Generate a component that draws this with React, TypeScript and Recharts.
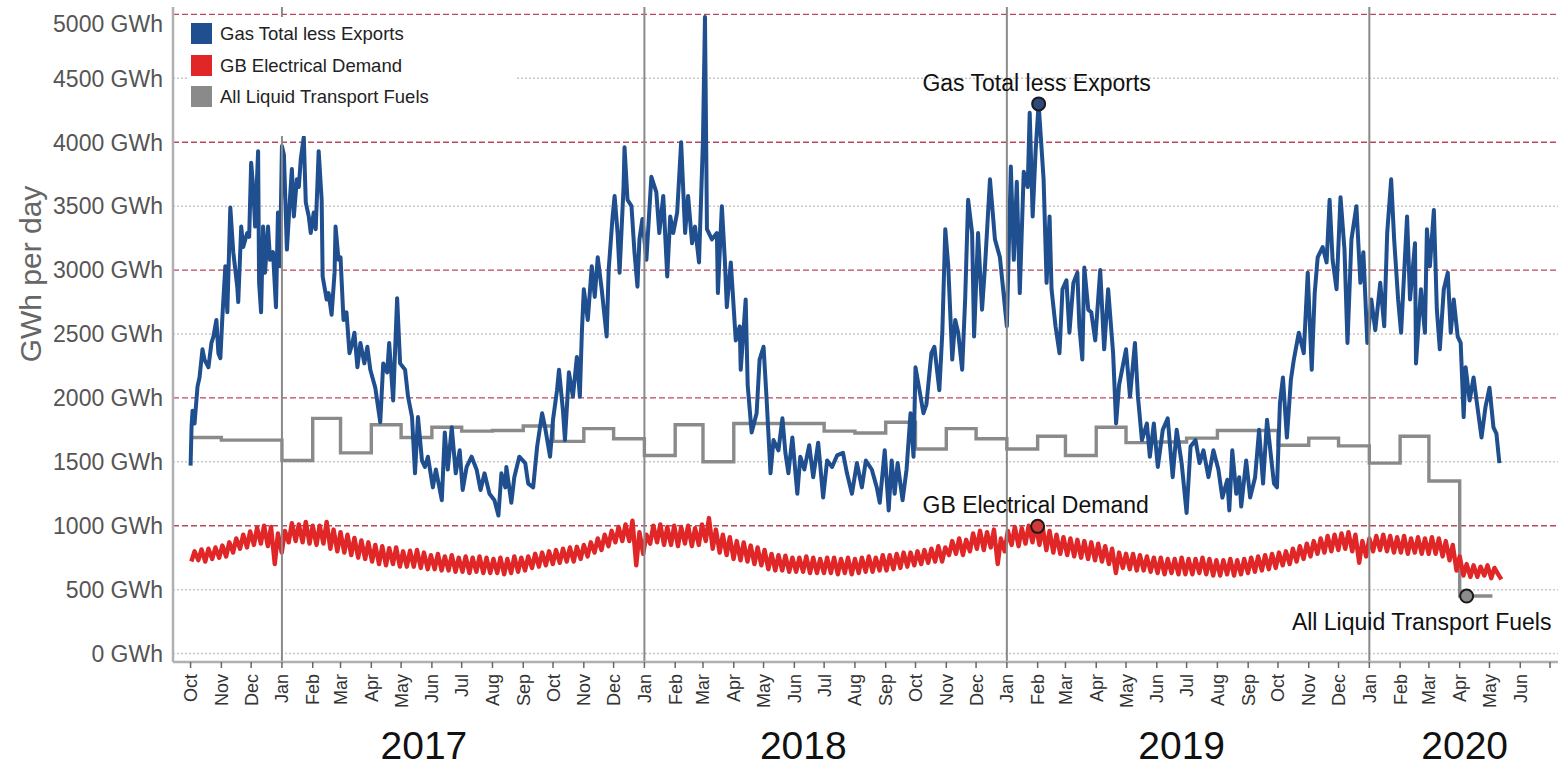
import React from 'react';
import {
  ComposedChart,
  Line,
  XAxis,
  YAxis,
  CartesianGrid,
  ReferenceLine,
  ReferenceDot,
} from 'recharts';

// ---------- DATA ----------
// day numbers are days since 2016-10-01
const SERIES_START = Date.UTC(2016, 9, 1);
const dayOf = (y: number, m: number, d = 1) => (Date.UTC(y, m, d) - SERIES_START) / 86400000;

// Gas Total less Exports (GWh per day)
const gasDays = [
  0, 1, 2, 4, 7, 9, 12, 14, 18, 21, 23, 26, 28, 30, 32, 35, 37, 40, 43, 47, 48, 51, 53, 57, 59, 61, 63, 65, 68, 69,
  71, 73, 75, 78, 80, 83, 86, 88, 90, 92, 94, 97, 100, 102, 104, 107, 109, 111, 114, 116, 119, 121, 124, 126, 129,
  132, 133, 137, 139, 142, 145, 146, 149, 151, 154, 157, 160, 163, 165, 168, 171, 175, 178, 181, 186, 191, 194, 198,
  200, 204, 208, 211, 216, 219, 223, 226, 229, 233, 236, 239, 244, 247, 253, 256, 259, 263, 267, 271, 274, 278, 283,
  288, 292, 296, 301, 306, 310, 313, 317, 318, 323, 326, 331, 337, 340, 345, 349, 354, 357, 362, 365, 369, 371, 375,
  377, 381, 385, 389, 392, 394, 396, 400, 404, 407, 410, 414, 419, 421, 425, 427, 430, 432, 436, 437, 440, 444, 447,
  450, 452, 455, 459, 464, 469, 472, 476, 480, 483, 486, 490, 494, 498, 501, 505, 508, 512, 516, 518, 520, 525, 530,
  531, 535, 538, 540, 544, 546, 549, 553, 554, 559, 561, 565, 570, 573, 577, 580, 584, 587, 592, 596, 599, 602, 606,
  611, 614, 618, 623, 627, 632, 637, 641, 646, 651, 657, 661, 666, 671, 676, 680, 686, 691, 694, 699, 703, 706, 709,
  712, 717, 721, 725, 728, 730, 734, 738, 741, 746, 749, 754, 757, 760, 763, 767, 770, 773, 777, 780, 783, 787, 789,
  793, 797, 800, 805, 810, 815, 818, 822, 826, 829, 832, 835, 839, 843, 845, 848, 851, 854, 859, 862, 865, 867, 871,
  875, 878, 882, 885, 889, 893, 895, 898, 900, 904, 907, 911, 916, 920, 924, 929, 932, 935, 938, 942, 946, 951, 954,
  958, 963, 966, 970, 974, 979, 984, 989, 993, 998, 1003, 1007, 1012, 1016, 1020, 1025, 1030, 1035, 1039, 1044, 1046,
  1049, 1053, 1056, 1058, 1063, 1067, 1072, 1076, 1080, 1084, 1088, 1091, 1094, 1097, 1100, 1104, 1108, 1111, 1116,
  1121, 1125, 1129, 1132, 1135, 1140, 1144, 1147, 1150, 1154, 1158, 1162, 1165, 1169, 1174, 1178, 1181, 1185, 1189,
  1193, 1198, 1202, 1205, 1209, 1212, 1216, 1219, 1225, 1228, 1233, 1234, 1239, 1243, 1245, 1248, 1252, 1255, 1258,
  1262, 1266, 1269, 1272, 1276, 1279, 1282, 1284, 1288, 1292, 1295, 1300, 1304, 1308, 1312, 1315, 1318,
];
const gasValues = [
  1470, 1780, 1900, 1800, 2090, 2160, 2380, 2300, 2240, 2430, 2480, 2610, 2350, 2310, 2630, 3030, 2670, 3490, 3140,
  2870, 2750, 3340, 3180, 3290, 3260, 3840, 3650, 3340, 3930, 2900, 2670, 3340, 2980, 3340, 3080, 3140, 2710, 3450,
  3030, 3970, 3900, 3160, 3550, 3790, 3420, 3710, 3650, 3870, 4040, 3530, 3420, 3290, 3450, 3320, 3930, 3550, 2950,
  2770, 2820, 2650, 2980, 3340, 3080, 3100, 2610, 2670, 2350, 2430, 2510, 2240, 2430, 2270, 2400, 2220, 2080, 1810,
  2270, 2200, 2430, 1980, 2780, 2270, 2220, 2010, 1850, 1410, 1850, 1510, 1460, 1540, 1300, 1440, 1200, 1730, 1440,
  1770, 1410, 1590, 1280, 1460, 1540, 1440, 1280, 1410, 1250, 1200, 1080, 1410, 1300, 1460, 1180, 1380, 1540, 1490,
  1330, 1300, 1620, 1880, 1770, 1540, 1830, 2060, 2220, 1900, 1670, 2200, 2010, 2320, 2010, 2510, 2850, 2610, 3030,
  2790, 3100, 2850, 2480, 3000, 3420, 3580, 3290, 2980, 3650, 3960, 3550, 3500, 3140, 2870, 3240, 3400, 3080, 3730,
  3610, 3290, 3580, 2950, 3420, 3290, 3450, 4000, 3290, 3580, 3210, 3340, 3060, 4020, 4980, 3320, 3240, 3290, 2820,
  3500, 3080, 2710, 3060, 2820, 2450, 2560, 2220, 2770, 2100, 1730, 1880, 2300, 2400, 2000, 1410, 1670, 1590, 1840,
  1570, 1410, 1690, 1250, 1540, 1440, 1630, 1380, 1650, 1220, 1510, 1460, 1550, 1570, 1410, 1250, 1490, 1300, 1510,
  1440, 1300, 1180, 1590, 1120, 1510, 1250, 1490, 1200, 1440, 1880, 1540, 2240, 2060, 1880, 1950, 2350, 2400, 2060,
  2510, 3320, 3030, 2300, 2610, 2510, 2220, 2770, 3550, 3290, 2480, 3290, 2690, 3030, 3710, 3240, 3100, 2870, 2560,
  3810, 3080, 3690, 2820, 3770, 3650, 4230, 3420, 3940, 4300, 3710, 2900, 3420, 2850, 2560, 2350, 2850, 2920, 2510,
  2900, 2980, 2560, 2300, 3020, 2690, 2670, 2450, 3000, 2380, 2850, 2350, 1800, 2100, 2220, 2380, 2010, 2430, 2010,
  1670, 1800, 1540, 1800, 1460, 1750, 1840, 1380, 1750, 1490, 1100, 1620, 1670, 1490, 1590, 1380, 1590, 1440, 1220,
  1360, 1120, 1590, 1250, 1380, 1150, 1510, 1220, 1380, 1750, 1330, 1830, 1540, 1330, 1300, 1960, 2160, 1690, 2140,
  2300, 2510, 2350, 2980, 2220, 2820, 3100, 3180, 3060, 3550, 3080, 2850, 3570, 3160, 2430, 3240, 3500, 2900, 3140,
  2430, 2770, 2530, 2900, 2560, 3290, 3710, 3240, 2770, 2510, 3420, 2770, 3210, 2270, 2850, 2510, 3320, 3030, 3470,
  2690, 2380, 2850, 2980, 2510, 2770, 2480, 2430, 1850, 2240, 1980, 2160, 1980, 1690, 1930, 2080, 1770, 1720, 1490,
];

// GB Electrical Demand: one weekend level and one weekday level per week (week 0 starts 2016-10-01)
const elecWeekHigh = [
  800, 815, 820, 830, 845, 870, 900, 930, 955, 985, 1000, 990, 940, 960, // Oct-Dec 2016
  1020, 1010, 1030, 1000, 1000, 1030, 970, 950, 930, 905, 885, 870, // Jan-Mar 2017
  850, 840, 825, 830, 800, 805, 810, 790, 770, 780, 760, 770, 750, // Apr-Jun 2017
  760, 750, 760, 750, 740, 750, 740, 760, 750, 760, 780, 790, 800, 810, // Jul-Sep 2017
  820, 830, 835, 850, 870, 900, 930, 960, 990, 1010, 1040, 950, 930, // Oct-Dec 2017
  1000, 1010, 990, 1000, 990, 1000, 980, 1010, 1060, 970, 930, 910, 880, // Jan-Mar 2018
  870, 845, 830, 810, 780, 770, 765, 750, 750, 760, 750, 740, 750, // Apr-Jun 2018
  750, 740, 750, 740, 750, 760, 750, 770, 770, 780, 790, 790, 800, // Jul-Sep 2018
  810, 820, 840, 830, 880, 900, 890, 940, 960, 950, 970, 900, 960, // Oct-Dec 2018
  990, 980, 1000, 1010, 990, 960, 930, 910, 900, 890, 880, 870, 860, // Jan-Mar 2019
  840, 820, 790, 780, 780, 770, 760, 750, 750, 740, 740, 750, 740, // Apr-Jun 2019
  740, 750, 740, 730, 730, 740, 730, 740, 750, 760, 770, 780, 790, // Jul-Sep 2019
  800, 820, 840, 860, 880, 900, 920, 930, 940, 950, 930, 880, 900, // Oct-Dec 2019
  920, 930, 920, 910, 920, 900, 910, 900, 910, 900, 880, 850, 760, // Jan-Mar 2020
  700, 690, 680, 690, 670, 580, // Apr-May 2020
];
const elecWeekLow = [
  720, 730, 720, 740, 750, 760, 790, 820, 830, 850, 860, 840, 700, 790,
  870, 880, 870, 860, 850, 860, 820, 800, 790, 770, 750, 740,
  720, 700, 690, 700, 680, 680, 680, 670, 660, 660, 650, 650, 640,
  640, 630, 640, 630, 630, 630, 620, 630, 640, 650, 670, 680, 690, 700,
  710, 720, 720, 740, 760, 790, 810, 840, 870, 880, 880, 690, 780,
  860, 870, 850, 850, 840, 860, 840, 850, 880, 820, 790, 770, 740,
  730, 720, 700, 690, 660, 650, 650, 640, 640, 640, 630, 630, 630,
  630, 620, 630, 620, 630, 640, 640, 650, 650, 660, 670, 680, 690,
  700, 710, 720, 720, 770, 780, 770, 800, 820, 810, 830, 700, 800,
  850, 840, 860, 870, 850, 810, 790, 780, 770, 760, 750, 740, 730,
  720, 700, 630, 670, 660, 650, 650, 640, 630, 620, 630, 620, 620,
  620, 630, 620, 610, 610, 620, 610, 620, 630, 640, 650, 660, 670,
  690, 700, 720, 740, 760, 780, 790, 800, 810, 820, 800, 710, 760,
  800, 810, 800, 790, 790, 780, 790, 780, 780, 780, 760, 730, 650,
  610, 600, 600, 610, 590, 620,
];

// All Liquid Transport Fuels: monthly level, held flat through each month
const transportMonths = [
  '2016-10', '2016-11', '2016-12',
  '2017-01', '2017-02', '2017-03', '2017-04', '2017-05', '2017-06', '2017-07', '2017-08', '2017-09', '2017-10', '2017-11', '2017-12',
  '2018-01', '2018-02', '2018-03', '2018-04', '2018-05', '2018-06', '2018-07', '2018-08', '2018-09', '2018-10', '2018-11', '2018-12',
  '2019-01', '2019-02', '2019-03', '2019-04', '2019-05', '2019-06', '2019-07', '2019-08', '2019-09', '2019-10', '2019-11', '2019-12',
  '2020-01', '2020-02', '2020-03', '2020-04',
];
const transportValues = [
  1690, 1670, 1670,
  1510, 1840, 1570, 1790, 1690, 1770, 1740, 1745, 1780, 1660, 1760, 1680,
  1550, 1790, 1500, 1800, 1800, 1800, 1740, 1725, 1810, 1600, 1760, 1680,
  1600, 1700, 1550, 1770, 1650, 1655, 1685, 1745, 1745, 1630, 1685, 1625,
  1490, 1700, 1350, 450,
];
const transportLastDay = '2020-05-04';

const yTicks = [0, 500, 1000, 1500, 2000, 2500, 3000, 3500, 4000, 4500, 5000];
const MONTH_NAMES = ['Jan', 'Feb', 'Mar', 'Apr', 'May', 'Jun', 'Jul', 'Aug', 'Sep', 'Oct', 'Nov', 'Dec'];
const yearDividers = [2017, 2018, 2019, 2020];
const yearLabels = ['2017', '2018', '2019', '2020'];
const yearLabelDays = [235, 617, 998, 1283];

const annotationLabels = ['Gas Total less Exports', 'GB Electrical Demand', 'All Liquid Transport Fuels'];
const annotationDays = [854, 853, 1285];
const annotationValues = [4300, 995, 450];

const legendNames = ['Gas Total less Exports', 'GB Electrical Demand', 'All Liquid Transport Fuels'];

// ---------- STYLE ----------
const FONT = "'Liberation Sans', Arial, Helvetica, sans-serif";
const GAS_COLOR = '#1f4f8f';
const ELEC_COLOR = '#e02626';
const FUEL_COLOR = '#8a8a8a';
const seriesColors = [GAS_COLOR, ELEC_COLOR, FUEL_COLOR];
const dotFills = ['#2c4a78', '#d23a3a', '#8c8c8c'];

// ---------- DERIVED TABLES ----------
const gasData = gasDays.map((d, i) => ({ day: d, value: gasValues[i] }));
const elecData: { day: number; value: number }[] = [];
elecWeekHigh.forEach((hi, w) => {
  elecData.push({ day: 7 * w + 0.8, value: elecWeekLow[w] });
  elecData.push({ day: 7 * w + 4, value: hi });
});
const parseMonth = (s: string) => {
  const [y, m] = s.split('-').map(Number);
  return dayOf(y, m - 1);
};
const transportData = transportMonths.map((s, i) => ({ day: parseMonth(s), value: transportValues[i] }));
{
  const [ly, lm, ld] = transportLastDay.split('-').map(Number);
  transportData.push({ day: dayOf(ly, lm - 1, ld), value: transportValues[transportValues.length - 1] });
}

const monthTicks: { day: number; label: string }[] = [];
for (let y = 2016, m = 9; y < 2020 || (y === 2020 && m <= 6); ) {
  monthTicks.push({ day: dayOf(y, m), label: y === 2020 && m === 6 ? '' : MONTH_NAMES[m] });
  m++;
  if (m > 11) {
    m = 0;
    y++;
  }
}
const allXTicks = [...monthTicks.map((t) => t.day), ...yearLabelDays];
const X_DOMAIN: [number, number] = [-17.7, 1377];
const Y_DOMAIN: [number, number] = [-66, 5058];

const XTick = (props: any) => {
  const { x, y, payload } = props;
  const yi = yearLabelDays.findIndex((d) => Math.abs(d - payload.value) < 0.01);
  if (yi >= 0) {
    return (
      <text x={x} y={y + 87} textAnchor="middle" fontSize={39} fill="#111" fontFamily={FONT}>
        {yearLabels[yi]}
      </text>
    );
  }
  const t = monthTicks.find((mt) => Math.abs(mt.day - payload.value) < 0.01);
  return (
    <g>
      <line x1={x} x2={x} y1={y - 10} y2={y - 4} stroke="#666" strokeWidth={1.5} />
      <g transform={`translate(${x},${y + 2})`}>
        <text transform="rotate(-90)" textAnchor="end" dy="0.36em" fontSize={18} fill="#333" fontFamily={FONT}>
          {t ? t.label : ''}
        </text>
      </g>
    </g>
  );
};

const ValueTick = (props: any) => {
  const { x, y, payload } = props;
  return (
    <text x={x} y={Math.max(y, 24)} dy="0.36em" textAnchor="end" fontSize={23} fill="#555" fontFamily={FONT}>
      {`${payload.value} GWh`}
    </text>
  );
};

const makeAnnotationLabel = (i: number) => (props: any) => {
  const vb = props.viewBox || {};
  const cx = (vb.x ?? 0) + (vb.width ?? 0) / 2;
  const cy = (vb.y ?? 0) + (vb.height ?? 0) / 2;
  if (i === 2) {
    return (
      <text x={cx - 45} y={cy + 18} dy="0.71em" textAnchor="middle" fontSize={23} fill="#111" fontFamily={FONT}>
        {annotationLabels[i]}
      </text>
    );
  }
  return (
    <text x={cx - 2} y={cy - 13} textAnchor="middle" fontSize={23} fill="#111" fontFamily={FONT}>
      {annotationLabels[i]}
    </text>
  );
};

export default function App() {
  return (
    <div style={{ position: 'absolute', left: 0, top: 0, width: 1562, height: 769, background: '#fff', fontFamily: FONT }}>
      <ComposedChart
        width={1562}
        height={769}
        margin={{ top: 7, right: 4, bottom: 0, left: 0 }}
        style={{ fontFamily: FONT }}
      >
        <CartesianGrid
          vertical={false}
          horizontalValues={[0, 500, 1500, 2500, 3500, 4500]}
          stroke="#c8c8c8"
          strokeWidth={1.5}
          strokeDasharray="2 2"
          xAxisId="m"
          yAxisId="v"
        />
        <CartesianGrid
          vertical={false}
          horizontalValues={[1000, 2000, 3000, 4000, 5000]}
          stroke="#b8485e"
          strokeWidth={1.3}
          strokeDasharray="6 3"
          xAxisId="m"
          yAxisId="v"
        />
        <XAxis
          xAxisId="m"
          type="number"
          dataKey="day"
          domain={X_DOMAIN}
          allowDataOverflow
          ticks={allXTicks}
          interval={0}
          tick={<XTick />}
          tickSize={6}
          tickMargin={4}
          tickLine={false}
          axisLine={{ stroke: '#b0b0b0', strokeWidth: 2.5 }}
          height={107}
        />
        <YAxis
          yAxisId="v"
          type="number"
          domain={Y_DOMAIN}
          allowDataOverflow
          ticks={yTicks}
          interval={0}
          tick={<ValueTick />}
          tickLine={false}
          tickSize={6}
          tickMargin={4}
          axisLine={{ stroke: '#b0b0b0', strokeWidth: 2.5 }}
          width={173}
        />
        <Line
          xAxisId="m"
          yAxisId="v"
          data={transportData}
          dataKey="value"
          type="stepAfter"
          stroke={FUEL_COLOR}
          strokeWidth={3.4}
          dot={false}
          activeDot={false}
          isAnimationActive={false}
        />
        <Line
          xAxisId="m"
          yAxisId="v"
          data={elecData}
          dataKey="value"
          type="linear"
          stroke={ELEC_COLOR}
          strokeWidth={4.4}
          strokeLinejoin="round"
          dot={false}
          activeDot={false}
          isAnimationActive={false}
        />
        <Line
          xAxisId="m"
          yAxisId="v"
          data={gasData}
          dataKey="value"
          type="linear"
          stroke={GAS_COLOR}
          strokeWidth={4}
          strokeLinejoin="round"
          dot={false}
          activeDot={false}
          isAnimationActive={false}
        />
        {yearDividers.map((y) => (
          <ReferenceLine
            key={y}
            xAxisId="m"
            yAxisId="v"
            x={dayOf(y, 0)}
            stroke="#8a8a8a"
            strokeWidth={2}
          />
        ))}
        {annotationDays.map((d, i) => (
          <ReferenceDot
            key={i}
            xAxisId="m"
            yAxisId="v"
            x={d}
            y={annotationValues[i]}
            r={6.5}
            fill={dotFills[i]}
            stroke="#1a1a1a"
            strokeWidth={2}
            label={makeAnnotationLabel(i)}
          />
        ))}
      </ComposedChart>
      <svg
        width={30}
        height={769}
        style={{ position: 'absolute', left: 0, top: 0, overflow: 'visible' }}
      >
        <text
          transform="translate(41,274) rotate(-90)"
          textAnchor="middle"
          fontSize={30}
          fill="#666"
          fontFamily={FONT}
        >
          GWh per day
        </text>
      </svg>
      <div
        style={{
          position: 'absolute',
          left: 187,
          top: 17,
          width: 328,
          height: 119,
          background: '#fff',
        }}
      >
        {legendNames.map((name, i) => (
          <div
            key={name}
            style={{
              position: 'absolute',
              left: 4,
              top: [6, 38, 69][i],
              height: 21,
              display: 'flex',
              alignItems: 'center',
              whiteSpace: 'nowrap',
            }}
          >
            <div style={{ width: 21, height: 21, background: seriesColors[i], marginRight: 8 }} />
            <span style={{ fontSize: 18.5, color: '#222', fontFamily: FONT, lineHeight: '21px' }}>{name}</span>
          </div>
        ))}
      </div>
    </div>
  );
}
